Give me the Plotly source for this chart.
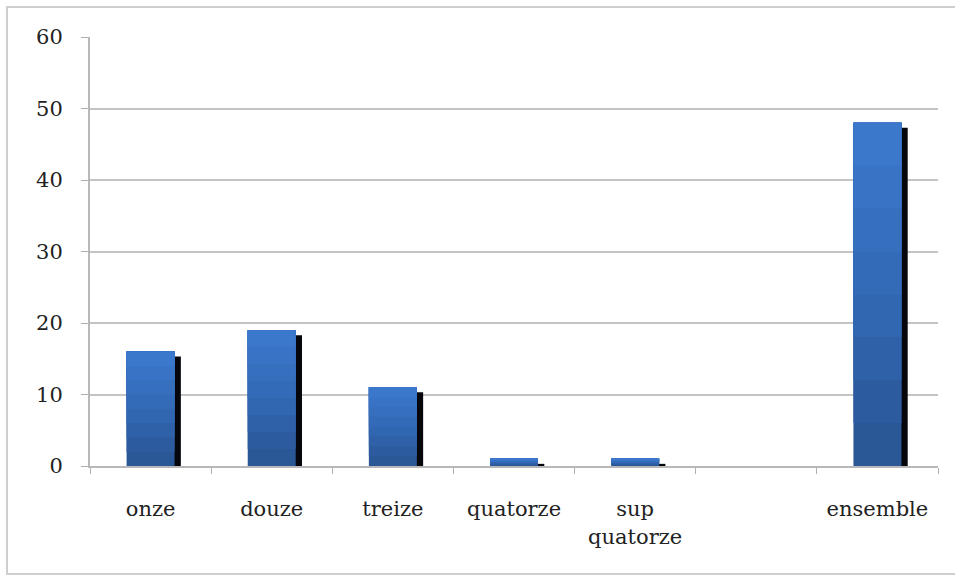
import plotly.graph_objects as go

# Effectifs par catégorie d'âge
categories = ["onze", "douze", "treize", "quatorze", "sup<br>quatorze", " ", "ensemble"]
values = [16, 19, 11, 1, 1, 0, 48]

# Colour bands used to shade each bar from dark (bottom) to light (top)
band_colors = ["#2a5796", "#2c5c9f", "#2f61a8", "#3166b0", "#346bb8", "#376fbf", "#3973c5", "#3b77cb"]
shadow_depth = 0.7  # data units the shadow top sits below the bar top

fig = go.Figure()

# Black shadow on the right side of each bar
fig.add_trace(go.Bar(
    x=categories,
    y=[max(v - shadow_depth, 0) for v in values],
    width=0.25, offset=0.0,
    marker=dict(color="#05070d", line=dict(width=0)),
    hoverinfo="skip", showlegend=False,
))

# Bar body: each lighter layer starts higher and runs to the bar top,
# overlapping the darker one beneath to form a vertical gradient
n = len(band_colors)
for i, col in enumerate(band_colors):
    fig.add_trace(go.Bar(
        x=categories,
        y=[v * (n - i) / n for v in values],
        base=[v * i / n for v in values],
        width=0.396, offset=-0.198,
        marker=dict(color=col, line=dict(width=0)),
        showlegend=False,
    ))

font_family = "DejaVu Serif, Liberation Serif, serif"
text_color = "#222222"

fig.update_layout(
    width=955, height=577,
    margin=dict(l=90, r=17, t=37, b=111),
    paper_bgcolor="white", plot_bgcolor="white",
    barmode="overlay",
    font=dict(family=font_family, size=21, color=text_color),
    showlegend=False,
    xaxis=dict(
        type="category",
        tickson="boundaries", ticks="outside", ticklen=6, tickcolor="#b0b0b0",
        showline=True, linecolor="#b8b8b8", linewidth=2,
        showgrid=False,
        tickfont=dict(family=font_family, size=21, color=text_color),
        ticklabelstandoff=23,
    ),
    yaxis=dict(
        range=[0, 60], dtick=10,
        ticks="outside", ticklen=7, tickcolor="#b0b0b0",
        showline=True, linecolor="#b8b8b8", linewidth=2,
        showgrid=True, gridcolor="#c4c4c4", gridwidth=2,
        zeroline=False,
        tickfont=dict(family=font_family, size=21, color=text_color),
        ticklabelstandoff=14,
    ),
    shapes=[dict(
        type="rect", xref="paper", yref="paper",
        x0=-0.0979, x1=1.2, y0=-0.2517, y1=1.07,
        line=dict(color="#cfcfcf", width=2), fillcolor="rgba(0,0,0,0)",
        layer="below",
    )],
)

fig.write_html("out.html")
